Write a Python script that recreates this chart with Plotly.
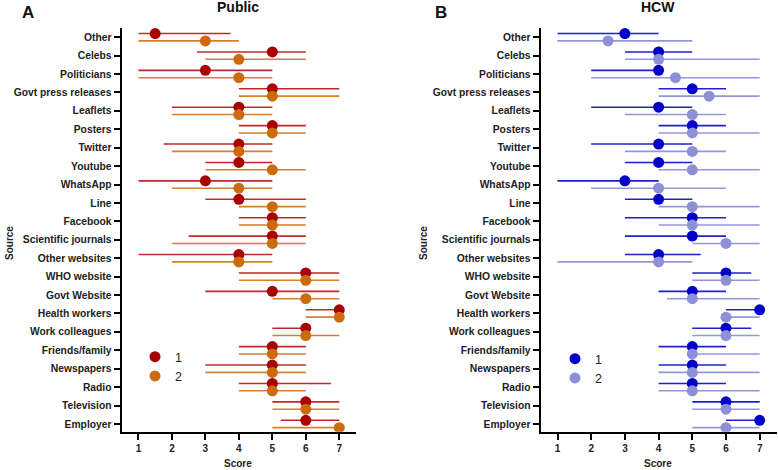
import plotly.graph_objects as go

categories = ["Other", "Celebs", "Politicians", "Govt press releases", "Leaflets", "Posters",
              "Twitter", "Youtube", "WhatsApp", "Line", "Facebook", "Scientific journals",
              "Other websites", "WHO website", "Govt Website", "Health workers",
              "Work colleagues", "Friends/family", "Newspapers", "Radio", "Television", "Employer"]

# Panel A - Public
pub1_med = [1.5, 5, 3, 5, 4, 5, 4, 4, 3, 4, 5, 5, 4, 6, 5, 7, 6, 5, 5, 5, 6, 6]
pub1_low = [1, 2.75, 1, 4, 2, 4, 1.75, 3, 1, 3, 4, 2.5, 1, 4, 3, 6, 5, 4, 3, 4, 5, 5.25]
pub1_high = [3.75, 6, 5, 7, 5, 6, 5, 5, 5, 6, 6, 6, 5, 7, 7, 7, 6, 6, 6, 6.75, 7, 7]
pub2_med = [3, 4, 4, 5, 4, 5, 4, 5, 4, 5, 5, 5, 4, 6, 6, 7, 6, 5, 5, 5, 6, 7]
pub2_low = [1, 3, 1, 4, 2, 4, 2, 3, 2, 4, 4, 2, 2, 4, 5, 6, 5, 4, 3, 4, 5, 5]
pub2_high = [4, 6, 5, 7, 5, 6, 5, 6, 5, 6, 6, 6, 5, 7, 7, 7, 7, 6, 6, 6, 7, 7]

# Panel B - HCW
hcw1_med = [3, 4, 4, 5, 4, 5, 4, 4, 3, 4, 5, 5, 4, 6, 5, 7, 6, 5, 5, 5, 6, 7]
hcw1_low = [1, 3, 2, 4, 2, 4, 2, 3, 1, 3, 3, 3, 3, 5, 4, 6, 5, 4, 4, 4, 5, 6]
hcw1_high = [4, 5, 4, 6, 5, 6, 5, 5, 4, 5, 6, 6, 5.25, 6.75, 6, 7, 6.75, 6, 6, 6, 7, 7]
hcw2_med = [2.5, 4, 4.5, 5.5, 5, 5, 5, 5, 4, 5, 5, 6, 4, 6, 5, 6, 6, 5, 5, 5, 6, 6]
hcw2_low = [1, 3, 2, 4, 3, 4, 3, 4, 2, 4, 4, 5, 1, 5, 4.25, 6, 5, 5, 4, 4, 5, 5]
hcw2_high = [5, 7, 7, 7, 6, 7, 6, 7, 6, 7, 7, 7, 5, 7, 7, 7, 7, 7, 7, 7, 7, 7]

series_labels = ["1", "2"]
x_ticks = [1, 2, 3, 4, 5, 6, 7]

FONT = "Liberation Sans, Arial, sans-serif"
OFF = 0.2
pos = list(range(len(categories)))

fig = go.Figure()


def add_series(med, low, high, shift, mcolor, lcolor, name, xaxis, yaxis, legend):
    ys = [p + shift for p in pos]
    fig.add_trace(go.Scatter(
        x=med, y=ys, mode="markers", name=name,
        xaxis=xaxis, yaxis=yaxis, legend=legend,
        marker=dict(size=11, color=mcolor),
        error_x=dict(type="data", symmetric=False,
                     array=[h - m for h, m in zip(high, med)],
                     arrayminus=[m - l for m, l in zip(med, low)],
                     color=lcolor, thickness=1.6, width=0),
        hoverinfo="skip"))


add_series(pub1_med, pub1_low, pub1_high, -OFF, "#A80000", "#C0282D", series_labels[0], "x", "y", "legend")
add_series(pub2_med, pub2_low, pub2_high, OFF, "#CC6A0E", "#D67F2E", series_labels[1], "x", "y", "legend")
add_series(hcw1_med, hcw1_low, hcw1_high, -OFF, "#0000C8", "#1F1FCC", series_labels[0], "x2", "y2", "legend2")
add_series(hcw2_med, hcw2_low, hcw2_high, OFF, "#8E90D6", "#9496DC", series_labels[1], "x2", "y2", "legend2")

W, H = 778, 470
ytop, ybot = 28, 431.7
ydom = [1 - ybot / H, 1 - ytop / H]

xaxis_common = dict(range=[0.5, 7.5], tickvals=x_ticks, ticktext=[str(v) for v in x_ticks],
                    showline=True, linecolor="black", linewidth=2.2, mirror=False,
                    ticks="outside", ticklen=6, tickwidth=2, tickcolor="black",
                    showgrid=False, zeroline=False, fixedrange=True, automargin=False,
                    tickfont=dict(family=FONT, size=10, color="#222", weight="bold"))
yaxis_common = dict(range=[21.42, -0.5], tickvals=pos, ticktext=categories,
                    showline=True, linecolor="black", linewidth=2.2,
                    ticks="outside", ticklen=6, tickwidth=2, tickcolor="black",
                    showgrid=False, zeroline=False, fixedrange=True, automargin=False,
                    tickfont=dict(family=FONT, size=10.3, color="#222", weight="bold"), domain=ydom)

fig.update_layout(
    width=W, height=H, margin=dict(l=0, r=0, t=0, b=0, autoexpand=False),
    paper_bgcolor="white", plot_bgcolor="white",
    font=dict(family=FONT, color="#222"),
    xaxis=dict(domain=[121.7 / W, 356 / W], anchor="y", **xaxis_common),
    yaxis=dict(anchor="x", **yaxis_common),
    xaxis2=dict(domain=[540.7 / W, 776.5 / W], anchor="y2", **xaxis_common),
    yaxis2=dict(anchor="x2", **yaxis_common),
    showlegend=True,
    legend=dict(x=135 / W, y=1 - 342 / H, xanchor="left", yanchor="top",
                bgcolor="rgba(0,0,0,0)", font=dict(family=FONT, size=12.5, color="#222"),
                itemwidth=30, tracegroupgap=0),
    legend2=dict(x=555 / W, y=1 - 344 / H, xanchor="left", yanchor="top",
                 bgcolor="rgba(0,0,0,0)", font=dict(family=FONT, size=12.5, color="#222"),
                 itemwidth=30, tracegroupgap=0),
)

ann = []
ann.append(dict(text="<b>A</b>", x=20 / W, y=1 - 12 / H, xref="paper", yref="paper",
                showarrow=False, font=dict(family=FONT, size=17, color="#111"), xanchor="left", yanchor="middle"))
ann.append(dict(text="<b>B</b>", x=433 / W, y=1 - 12 / H, xref="paper", yref="paper",
                showarrow=False, font=dict(family=FONT, size=17, color="#111"), xanchor="left", yanchor="middle"))
ann.append(dict(text="<b>Public</b>", x=238 / W, y=1 - 7 / H, xref="paper", yref="paper",
                showarrow=False, font=dict(family=FONT, size=14, color="#111"), xanchor="center", yanchor="middle"))
ann.append(dict(text="<b>HCW</b>", x=658 / W, y=1 - 7 / H, xref="paper", yref="paper",
                showarrow=False, font=dict(family=FONT, size=14, color="#111"), xanchor="center", yanchor="middle"))
ann.append(dict(text="<b>Score</b>", x=238 / W, y=1 - 463 / H, xref="paper", yref="paper",
                showarrow=False, font=dict(family=FONT, size=10, color="#222"), xanchor="center", yanchor="middle"))
ann.append(dict(text="<b>Score</b>", x=658 / W, y=1 - 463 / H, xref="paper", yref="paper",
                showarrow=False, font=dict(family=FONT, size=10, color="#222"), xanchor="center", yanchor="middle"))
ann.append(dict(text="<b>Source</b>", x=9 / W, y=1 - 243 / H, xref="paper", yref="paper", textangle=-90,
                showarrow=False, font=dict(family=FONT, size=10, color="#222"), xanchor="center", yanchor="middle"))
ann.append(dict(text="<b>Source</b>", x=423 / W, y=1 - 243 / H, xref="paper", yref="paper", textangle=-90,
                showarrow=False, font=dict(family=FONT, size=10, color="#222"), xanchor="center", yanchor="middle"))
fig.update_layout(annotations=ann)

fig.write_html("out.html", config={"displayModeBar": False},
               post_script="document.body.style.margin='0';document.body.style.overflow='hidden';")
